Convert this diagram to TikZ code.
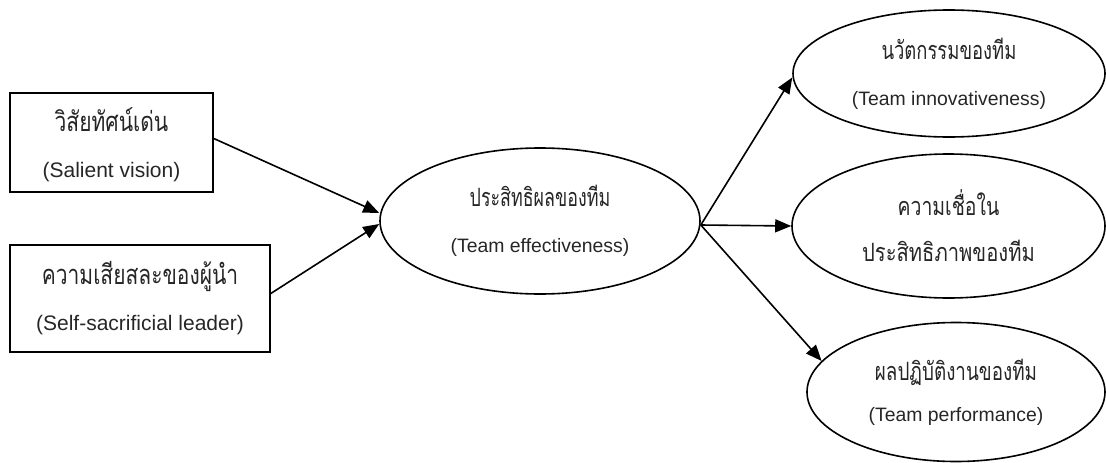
\documentclass[tikz,border=0pt]{standalone}
\usepackage{graphicx}
\usepackage{fontspec}
\setmainfont{Liberation Sans}
\newfontfamily\thai[Script=Thai]{Loma}
% Thai lines are set a little taller than Loma's natural shape
\newcommand\thaitext[2][1]{\scalebox{#1}[1.3]{\thai #2}}
\usetikzlibrary{shapes.geometric,arrows.meta}
\begin{document}
\begin{tikzpicture}[x=1pt,y=-1pt,
  conn/.style={line width=1.6pt,-{Triangle[length=16pt,width=13pt]}},
  factor/.style={draw,line width=1.6pt,rectangle,inner sep=0pt,align=center,
    text=black!85,font=\fontsize{21}{46}\selectfont},
  outcome/.style={draw,line width=1.6pt,ellipse,inner sep=0pt,align=center,
    text=black!85,font=\fontsize{19.4}{46}\selectfont}]
\useasboundingbox (0,0) rectangle (1106,463);
% antecedents
\node[factor,minimum width=203pt,minimum height=99pt,text depth=0pt] (sv) at (111.5,142.5)
  {\thaitext{วิสัยทัศน์เด่น}\\(Salient vision)};
\node[factor,minimum width=260pt,minimum height=107pt] (sl) at (140,298.5)
  {\thaitext{ความเสียสละของผู้นำ}\\(Self-sacrificial leader)};
% mediator
\node[outcome,minimum width=320pt,minimum height=146pt] (te) at (540,221)
  {\thaitext[0.92]{ประสิทธิผลของทีม}\\(Team effectiveness)};
% outcomes
\node[outcome,minimum width=312pt,minimum height=127pt] (ti) at (949,73.5)
  {\thaitext[0.95]{นวัตกรรมของทีม}\\(Team innovativeness)};
\node[outcome,minimum width=313pt,minimum height=144pt] (tb) at (948.5,226)
  {\thaitext{ความเชื่อใน}\\\thaitext[1.04]{ประสิทธิภาพของทีม}};
\node[outcome,minimum width=298pt,minimum height=139pt,
  font=\fontsize{19.4}{41}\selectfont] (tp) at (956,392)
  {\thaitext[0.97]{ผลปฏิบัติงานของทีม}\\(Team performance)};
% paths
\draw[conn] ([yshift=4pt]sv.east) -- ([yshift=8pt]te.west);
\draw[conn] ([yshift=5pt]sl.east) -- ([yshift=-3pt]te.west);
\draw[conn] ([yshift=-4pt]te.east) -- ([yshift=-4pt]ti.west);
\draw[conn] ([yshift=-4pt]te.east) -- (tb.west);
\draw[conn] ([yshift=-4pt]te.east) -- (tp.167);
\end{tikzpicture}
\end{document}
